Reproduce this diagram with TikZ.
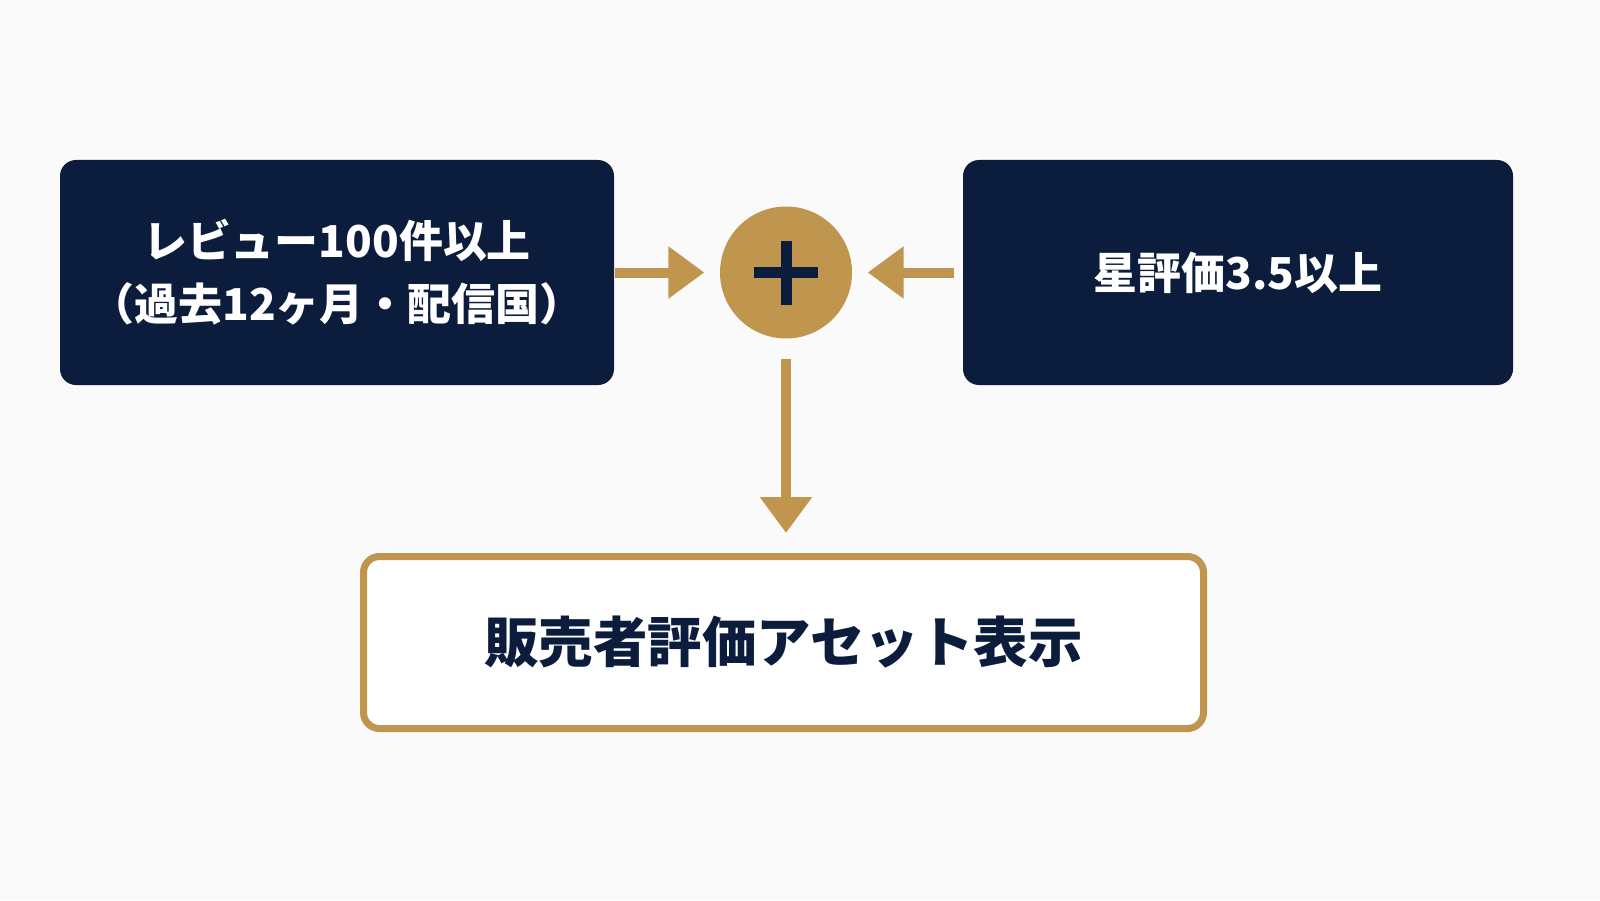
\documentclass[tikz,border=0pt]{standalone}
\usepackage{fontspec}
\setmainfont{Noto Sans CJK JP}
\definecolor{navy}{HTML}{0B1C3D}
\definecolor{gold}{HTML}{C0964E}
\definecolor{bg}{HTML}{FAFAFA}
\usetikzlibrary{arrows.meta}
\begin{document}
\begin{tikzpicture}[>={Triangle[length=3.6mm,width=5mm]}]
\tikzstyle{cond}=[rectangle,rounded corners=1.6mm,fill=navy,text=white,font=\bfseries\fontsize{12.5}{18}\selectfont,align=center,minimum height=2.25cm]
\tikzstyle{flow}=[->,draw=gold,fill=gold,line width=1mm]
\fill[bg] (0,0) rectangle (16,9);
\node[cond,minimum width=5.54cm](rev) at (3.37,6.275) {レビュー100件以上\\（過去12ヶ月・配信国）};
\node[cond,minimum width=5.5cm](star) at (12.38,6.275) {星評価3.5以上};
\node[circle,fill=gold,minimum size=1.32cm,inner sep=0pt](plus) at (7.86,6.275) {};
\draw[navy,line width=1.1mm] ([xshift=-3.2mm]plus.center) -- ([xshift=3.2mm]plus.center)
  ([yshift=-3.2mm]plus.center) -- ([yshift=3.2mm]plus.center);
\node[rectangle,rounded corners=1.6mm,draw=gold,line width=0.7mm,fill=white,text=navy,font=\bfseries\fontsize{15.5}{18}\selectfont,minimum width=8.4cm,minimum height=1.72cm](asset) at (7.835,2.575) {販売者評価アセット表示};
\draw[flow] (rev.east) -- ([xshift=-1.5mm]plus.west);
\draw[flow] ([xshift=-0.8mm]star.west) -- ([xshift=1.5mm]plus.east);
\draw[flow] ([yshift=-2mm]plus.south) -- ([yshift=2mm]plus.south |- asset.north);
\end{tikzpicture}
\end{document}
